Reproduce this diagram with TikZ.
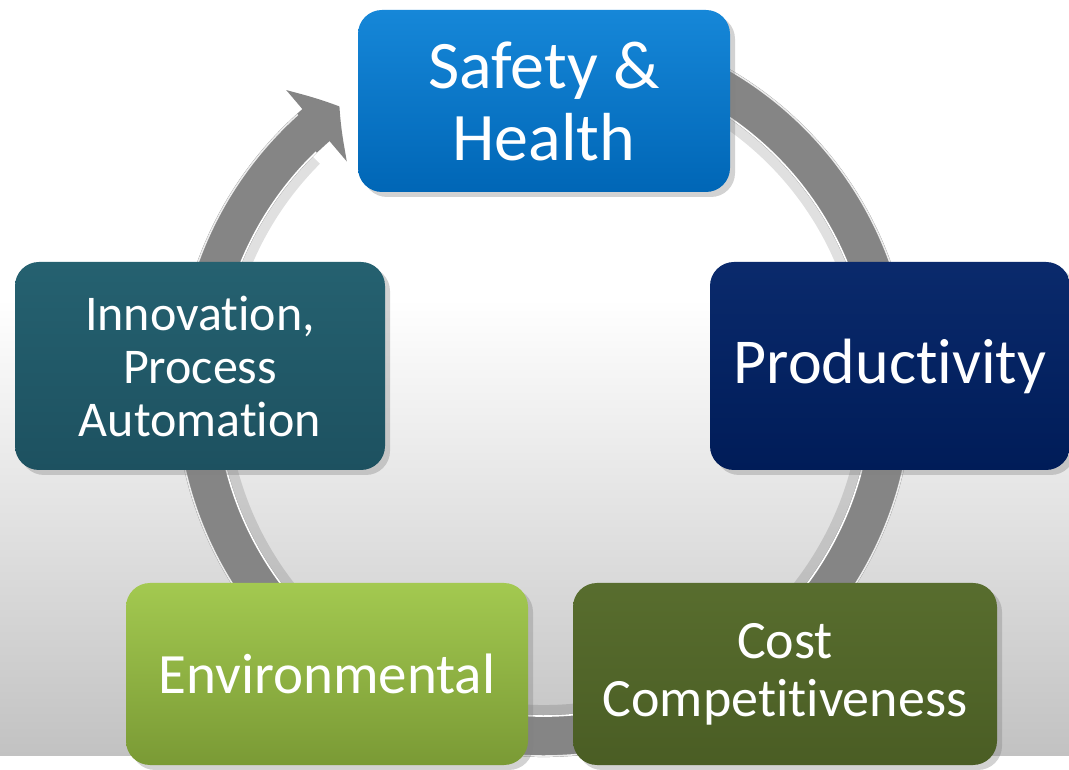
\documentclass[tikz,border=0pt]{standalone}
\usepackage{fontspec}
\setmainfont{Carlito}[Ligatures=NoCommon]
\usetikzlibrary{arrows.meta,bending,shadows}
\usepackage{xcolor}

\definecolor{bggray}{HTML}{C2C2C2}
\definecolor{ringgray}{HTML}{858585}
\definecolor{safetytop}{HTML}{1687D8}
\definecolor{safetybot}{HTML}{0066B6}
\definecolor{prodtop}{HTML}{0A2A6C}
\definecolor{prodbot}{HTML}{001C58}
\definecolor{innovtop}{HTML}{256170}
\definecolor{innovbot}{HTML}{1D5160}
\definecolor{envtop}{HTML}{A3C950}
\definecolor{envbot}{HTML}{7A9A35}
\definecolor{costtop}{HTML}{586D2E}
\definecolor{costbot}{HTML}{4A5D24}

\begin{document}
\begin{tikzpicture}[x=1pt,y=1pt,>=Stealth,
	tile/.style={rounded corners=24pt,text=white,align=center,inner sep=0pt,
		drop shadow={shadow xshift=5pt,shadow yshift=-5pt,opacity=0.35}},
	ring/.style={line width=42pt,draw=ringgray}]
	\useasboundingbox (0,0) rectangle (1069,769);
	\fill[white] (0,0) rectangle (1069,769);
	\shade[top color=white,bottom color=bggray] (0,14) rectangle (1069,470);

	% the cycle ring
	\coordinate (hub) at (544,381);
	\draw[line width=50pt,black,opacity=0.12] (hub) ++(60:342)
		arc[start angle=60,end angle=-225,radius=342];
	\draw[ring,-{Triangle[length=30pt,width=92pt,bend]}] (hub) ++(60:348)
		arc[start angle=60,end angle=-234,radius=348];
	\draw[white,line width=1.6pt] (hub) ++(60:328)
		arc[start angle=60,end angle=-226,radius=328];
	\draw[gray!15,line width=1.6pt] (hub) ++(60:368)
		arc[start angle=60,end angle=-228,radius=368];

	% the five tiles
	\node[tile,minimum width=372pt,minimum height=182pt,top color=safetytop,bottom color=safetybot,
		font=\fontsize{68}{72}\selectfont] (safety) at (544,668) {Safety \&\\Health};
	\node[tile,minimum width=360pt,minimum height=208pt,top color=prodtop,bottom color=prodbot,
		font=\fontsize{64}{68}\selectfont] (productivity) at (890,403) {Productivity};
	\node[tile,minimum width=370pt,minimum height=208pt,top color=innovtop,bottom color=innovbot,
		font=\fontsize{50}{53}\selectfont] (innovation) at (200,403) {Innovation,\\Process\\Automation};
	\node[tile,minimum width=402pt,minimum height=182pt,top color=envtop,bottom color=envbot,
		font=\fontsize{57}{60}\selectfont] (environ) at (327,95) {Environmental};
	\node[tile,minimum width=424pt,minimum height=182pt,top color=costtop,bottom color=costbot,
		font=\fontsize{54}{58}\selectfont] (cost) at (785,95) {Cost\\Competitiveness};
\end{tikzpicture}
\end{document}
